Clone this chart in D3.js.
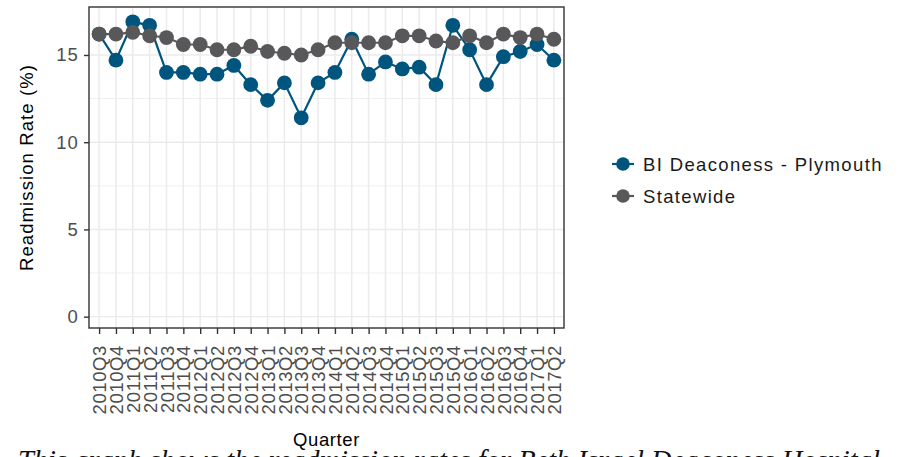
<!DOCTYPE html>
<html>
<head>
<meta charset="utf-8">
<script src="https://cdn.jsdelivr.net/npm/d3@7"></script>
<style>
  body { margin: 0; background: #fff; }
  svg { display: block; }
</style>
</head>
<body>
<div id="chart"></div>
<script>
const quarters = ["2010Q3", "2010Q4",
  "2011Q1", "2011Q2", "2011Q3", "2011Q4",
  "2012Q1", "2012Q2", "2012Q3", "2012Q4",
  "2013Q1", "2013Q2", "2013Q3", "2013Q4",
  "2014Q1", "2014Q2", "2014Q3", "2014Q4",
  "2015Q1", "2015Q2", "2015Q3", "2015Q4",
  "2016Q1", "2016Q2", "2016Q3", "2016Q4",
  "2017Q1", "2017Q2"];

const hospitalRate = [16.2, 14.7,
  16.9, 16.7, 14.0, 14.0,
  13.9, 13.9, 14.4, 13.3,
  12.4, 13.4, 11.4, 13.4,
  14.0, 15.9, 13.9, 14.6,
  14.2, 14.3, 13.3, 16.7,
  15.3, 13.3, 14.9, 15.2,
  15.6, 14.7];

const stateRate = [16.2, 16.2,
  16.3, 16.1, 16.0, 15.6,
  15.6, 15.3, 15.3, 15.5,
  15.2, 15.1, 15.0, 15.3,
  15.7, 15.7, 15.7, 15.7,
  16.1, 16.1, 15.8, 15.7,
  16.1, 15.7, 16.2, 16.0,
  16.2, 15.9];

const seriesNames = ["BI Deaconess - Plymouth", "Statewide"];
const seriesColors = ["#00557f", "#58585b"];
const yTicks = [0, 5, 10, 15];
const yMinor = [2.5, 7.5, 12.5];

const width = 903, height = 457;
const panel = { left: 89, right: 564, top: 7, bottom: 328 };
const font = "'Liberation Sans', Arial, sans-serif";

const svg = d3.select("#chart").append("svg")
  .attr("width", width)
  .attr("height", height);

const x = d3.scalePoint()
  .domain(quarters)
  .range([panel.left, panel.right])
  .padding(0.6);

const y = d3.scaleLinear()
  .domain([-0.65, 17.75])
  .range([panel.bottom, panel.top]);

// grid
const grid = svg.append("g");
grid.selectAll(".minor")
  .data(yMinor)
  .join("line")
  .attr("x1", panel.left).attr("x2", panel.right)
  .attr("y1", d => y(d)).attr("y2", d => y(d))
  .attr("stroke", "#ebebeb").attr("stroke-width", 0.8);
grid.selectAll(".major")
  .data(yTicks)
  .join("line")
  .attr("x1", panel.left).attr("x2", panel.right)
  .attr("y1", d => y(d)).attr("y2", d => y(d))
  .attr("stroke", "#ebebeb").attr("stroke-width", 1.4);
grid.selectAll(".vert")
  .data(quarters)
  .join("line")
  .attr("x1", d => x(d)).attr("x2", d => x(d))
  .attr("y1", panel.top).attr("y2", panel.bottom)
  .attr("stroke", "#ebebeb").attr("stroke-width", 1.5);

// series
const series = [
  { name: seriesNames[0], color: seriesColors[0], values: hospitalRate },
  { name: seriesNames[1], color: seriesColors[1], values: stateRate }
];

const line = d3.line()
  .x((d, i) => x(quarters[i]))
  .y(d => y(d));

svg.append("g")
  .selectAll("path")
  .data(series)
  .join("path")
  .attr("d", d => line(d.values))
  .attr("fill", "none")
  .attr("stroke", d => d.color)
  .attr("stroke-width", 2.2);

series.forEach(s => {
  svg.append("g")
    .selectAll("circle")
    .data(s.values)
    .join("circle")
    .attr("cx", (d, i) => x(quarters[i]))
    .attr("cy", d => y(d))
    .attr("r", 7.4)
    .attr("fill", s.color);
});

// panel border
svg.append("rect")
  .attr("x", panel.left).attr("y", panel.top)
  .attr("width", panel.right - panel.left)
  .attr("height", panel.bottom - panel.top)
  .attr("fill", "none")
  .attr("stroke", "#333")
  .attr("stroke-width", 1.4);

// axes
const yAxis = svg.append("g")
  .attr("transform", `translate(${panel.left},0)`)
  .call(d3.axisLeft(y).tickValues(yTicks).tickSize(5).tickPadding(5));
const xAxis = svg.append("g")
  .attr("transform", `translate(0,${panel.bottom})`)
  .call(d3.axisBottom(x).tickSize(6));

[yAxis, xAxis].forEach(a => {
  a.select(".domain").remove();
  a.selectAll(".tick line").attr("stroke", "#333").attr("stroke-width", 1.4);
  a.selectAll("text")
    .attr("fill", "#4d4d4d")
    .style("font-family", font)
    .style("font-size", "18.5px")
    .style("letter-spacing", "1.1px");
});

xAxis.selectAll("text")
  .attr("text-anchor", "end")
  .attr("transform", "rotate(-90)")
  .attr("x", -17)
  .attr("y", 0)
  .attr("dy", "0.36em")
  .style("letter-spacing", "0.6px");

// axis titles
svg.append("text")
  .attr("x", (panel.left + panel.right) / 2)
  .attr("y", 446)
  .attr("text-anchor", "middle")
  .style("font-family", font)
  .style("font-size", "18.5px")
  .style("letter-spacing", "0.6px")
  .text("Quarter");

svg.append("text")
  .attr("transform", `translate(33,${(panel.top + panel.bottom) / 2}) rotate(-90)`)
  .attr("text-anchor", "middle")
  .style("font-family", font)
  .style("font-size", "18.5px")
  .style("letter-spacing", "1.1px")
  .text("Readmission Rate (%)");

// legend
const legend = svg.append("g").attr("transform", "translate(612,164)");
const item = legend.selectAll("g")
  .data(series)
  .join("g")
  .attr("transform", (d, i) => `translate(0,${i * 32})`);
item.append("line")
  .attr("x1", 0).attr("x2", 22)
  .attr("stroke", d => d.color).attr("stroke-width", 2.2);
item.append("circle")
  .attr("cx", 11).attr("r", 6.8)
  .attr("fill", d => d.color);
item.append("text")
  .attr("x", 31)
  .attr("dy", "0.36em")
  .style("font-family", font)
  .style("font-size", "18.5px")
  .style("letter-spacing", "1.35px")
  .attr("fill", "#1a1a1a")
  .text(d => d.name);

// caption (cut off at bottom edge)
svg.append("text")
  .attr("x", 18)
  .attr("y", 470)
  .style("font-family", "'Liberation Serif', 'Times New Roman', serif")
  .style("font-style", "italic")
  .style("font-size", "28.5px")
  .attr("fill", "#111")
  .text("This graph shows the readmission rates for Beth Israel Deaconess Hospital");
</script>
</body>
</html>
